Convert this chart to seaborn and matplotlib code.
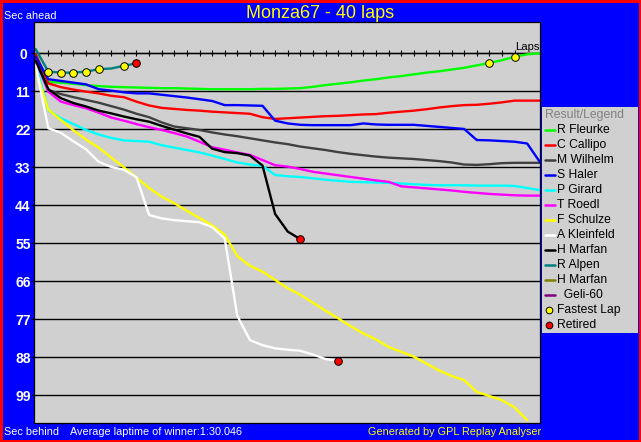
import numpy as np
import pandas as pd
import matplotlib
matplotlib.use("Agg")
import matplotlib.pyplot as plt
import seaborn as sns
from matplotlib.patches import Rectangle
from matplotlib.lines import Line2D

# ---------------- data ----------------
driver_labels = ["R Fleurke", "C Callipo", "M Wilhelm", "S Haler", "P Girard", "T Roedl",
                 "F Schulze", "A Kleinfeld", "H Marfan", "R Alpen", "H Marfan", "  Geli-60"]
driver_colors = ["#00FF00", "#FF0000", "#404040", "#0000FF", "#00FFFF", "#FF00FF",
                 "#FFFF00", "#FFFFFF", "#000000", "#008080", "#808000", "#800080"]

gap_fleurke = [0.3, 8.3, 8.5, 8.8, 9.2, 9.5, 9.7, 9.8, 9.9, 10.0, 10.1, 10.1, 10.2, 10.3, 10.4,
               10.4, 10.4, 10.4, 10.3, 10.3, 10.2, 10.1, 9.7, 9.2, 8.8, 8.4, 7.9, 7.5, 7.0, 6.6,
               6.1, 5.6, 5.2, 4.7, 4.2, 3.5, 2.8, 2.0, 1.0, 0.3, 0.0]
gap_callipo = [0.2, 8.7, 9.8, 10.5, 11.1, 11.6, 12.3, 12.7, 14.0, 15.1, 15.8, 16.1, 16.4, 16.6,
               16.9, 17.1, 17.3, 17.5, 18.5, 19.0, 18.8, 18.6, 18.4, 18.2, 18.1, 17.9, 17.7,
               17.6, 17.2, 16.9, 16.6, 16.2, 15.7, 15.3, 15.0, 14.9, 14.6, 14.2, 13.7, 13.7, 13.7]
gap_wilhelm = [1.5, 10.6, 11.8, 12.7, 13.5, 14.3, 15.3, 16.3, 17.5, 18.5, 20.0, 21.2, 21.7, 22.2,
               22.9, 23.5, 24.0, 24.6, 25.2, 25.8, 26.3, 27.0, 27.5, 28.0, 28.6, 29.1, 29.5,
               29.9, 30.2, 30.4, 30.6, 30.9, 31.2, 31.6, 32.2, 32.3, 32.1, 31.8, 31.7, 31.7, 31.7]
gap_haler = [1.0, 7.5, 8.0, 8.5, 9.0, 10.4, 10.8, 11.3, 11.6, 11.6, 12.0, 12.4, 12.8, 13.3, 13.8,
             15.0, 15.0, 15.1, 15.2, 19.5, 20.3, 20.7, 20.8, 20.8, 20.8, 20.8, 20.3, 20.6, 20.7,
             20.7, 20.7, 21.0, 21.3, 21.6, 21.9, 25.1, 25.2, 25.4, 25.6, 26.1, 31.4]
gap_girard = [3.0, 16.5, 18.8, 20.5, 22.2, 23.5, 24.5, 25.2, 25.4, 25.6, 26.6, 27.3, 28.0, 28.7,
              29.6, 30.6, 31.6, 32.2, 32.6, 35.2, 35.6, 35.8, 36.2, 36.6, 36.9, 37.2, 37.3, 37.4,
              37.5, 37.7, 37.9, 38.1, 38.2, 38.2, 38.2, 38.3, 38.3, 38.3, 38.4, 39.0, 39.6]
gap_roedl = [2.0, 11.1, 14.0, 15.0, 15.9, 17.2, 18.6, 19.5, 20.5, 21.4, 22.2, 23.1, 24.1, 25.6,
             27.2, 27.9, 28.7, 29.4, 30.9, 32.4, 32.8, 33.5, 34.3, 34.8, 35.3, 35.8, 36.3, 36.8,
             37.2, 38.5, 38.8, 39.1, 39.4, 39.7, 40.1, 40.4, 40.7, 40.9, 41.1, 41.2, 41.2]
gap_schulze = [4.8, 16.3, 19.3, 22.3, 25.0, 27.3, 30.2, 33.0, 36.0, 39.0, 41.5, 43.4, 45.6, 47.7,
               49.8, 52.5, 58.7, 61.5, 63.2, 65.6, 68.0, 69.9, 72.2, 74.5, 76.7, 79.0, 81.1, 82.8,
               85.0, 86.4, 87.8, 89.8, 91.8, 93.4, 94.6, 98.0, 99.2, 100.4, 102.5, 106.2]
gap_kleinfeld = [3.5, 21.7, 23.0, 25.5, 27.8, 31.4, 32.9, 33.7, 35.9, 46.8, 47.8, 48.3, 48.6,
                 48.9, 50.3, 53.6, 76.0, 83.0, 84.5, 85.4, 85.8, 86.1, 87.2, 88.5, 89.0]
gap_marfan = [2.1, 10.4, 13.0, 14.4, 15.4, 16.6, 17.4, 18.3, 19.1, 19.8, 21.0, 22.1, 23.2, 24.2,
              27.6, 28.6, 28.9, 29.6, 32.5, 46.5, 51.6, 53.8]
gap_alpen = [-1.2, 5.3, 5.6, 5.6, 5.3, 4.6, 4.4, 3.6, 2.9]
gap_marfan2 = []
gap_geli = []

all_gaps = [gap_fleurke, gap_callipo, gap_wilhelm, gap_haler, gap_girard, gap_roedl,
            gap_schulze, gap_kleinfeld, gap_marfan, gap_alpen, gap_marfan2, gap_geli]

fastest_driver = [9, 9, 9, 9, 9, 9, 0, 0]
fastest_lap = [1, 2, 3, 4, 5, 7, 36, 38]
retired_driver = [9, 8, 7]
retired_lap = [8, 21, 24]

y_ticks = [0, 11, 22, 33, 44, 55, 66, 77, 88, 99]
lap_ticks = list(range(1, 39))

title_text = "Monza67 - 40 laps"
avg_text = "Average laptime of winner:1:30.046"

# ---------------- frames ----------------
rows = []
for i, g in enumerate(all_gaps):
    for lap, v in enumerate(g):
        rows.append({"entry": i, "lap": lap, "gap": v})
df = pd.DataFrame(rows)

fl = pd.DataFrame({"lap": fastest_lap,
                   "gap": [all_gaps[d][l] for d, l in zip(fastest_driver, fastest_lap)]})
rt = pd.DataFrame({"lap": retired_lap,
                   "gap": [all_gaps[d][l] for d, l in zip(retired_driver, retired_lap)]})

# ---------------- style ----------------
sns.set_style("white")
plt.rcParams["font.family"] = ["Liberation Sans", "DejaVu Sans"]

W, H = 641, 442
fig = plt.figure(figsize=(W / 100, H / 100), dpi=100)
fig.patch.set_facecolor("#0000FF")

def fx(x):
    return x / W

def fy(y):
    return 1 - y / H

PL, PR, PT, PB = 34.3, 540.0, 22.0, 423.3
ax = fig.add_axes([fx(PL), fy(PB), (PR - PL) / W, (PB - PT) / H])
ax.set_facecolor("#D0D0D0")

present = [i for i, g in enumerate(all_gaps) if len(g) > 0]
palette = {i: driver_colors[i] for i in present}
sns.lineplot(data=df, x="lap", y="gap", hue="entry", hue_order=present, palette=palette,
             legend=False, linewidth=1.7, estimator=None, sort=False, ax=ax, zorder=3)
sns.scatterplot(data=fl, x="lap", y="gap", color="#FFFF00", edgecolor="black", linewidth=0.7,
                s=30, marker="o", ax=ax, zorder=5, legend=False)
sns.scatterplot(data=rt, x="lap", y="gap", color="#FF0000", edgecolor="black", linewidth=0.7,
                s=30, marker="o", ax=ax, zorder=5, legend=False)

ax.set_xlim(-0.11, 40.02)
ax.set_ylim(107.1, -9.06)
ax.set_xlabel("")
ax.set_ylabel("")

# zero line with lap ticks
for s in ["top", "left", "right"]:
    ax.spines[s].set_visible(False)
ax.spines["bottom"].set_position(("data", 0))
ax.spines["bottom"].set_color("black")
ax.spines["bottom"].set_linewidth(0.9)
ax.spines["bottom"].set_zorder(2)
ax.set_xticks(lap_ticks)
ax.tick_params(axis="x", direction="inout", length=4.0, width=0.8, color="black",
               labelbottom=False, bottom=True)

ax.set_yticks(y_ticks)
ax.set_yticklabels([str(v) for v in y_ticks])
ax.tick_params(axis="y", direction="out", length=2.2, width=0.8, color="black", left=True,
               pad=6.0, labelcolor="white", labelsize=10)
for lab in ax.get_yticklabels():
    lab.set_fontweight("bold")
    lab.set_ha("center")
ax.yaxis.grid(True, color="black", linewidth=1.0, zorder=1)
ax.xaxis.grid(False)
ax.set_axisbelow(True)

frame = Rectangle((0, 0), 1, 1, transform=ax.transAxes, fill=False, edgecolor="black",
                  linewidth=0.9, clip_on=False, zorder=6)
ax.add_patch(frame)

# ---------------- texts ----------------
fig.text(fx(4), fy(16), "Sec ahead", color="white", fontsize=7.8, ha="left", va="center")
fig.text(fx(320), fy(13), title_text, color="#FFFF00", fontsize=13, ha="center", va="center")
fig.text(fx(4), fy(432), "Sec behind", color="white", fontsize=7.8, ha="left", va="center")
fig.text(fx(69.5), fy(432), avg_text, color="white", fontsize=7.8, ha="left", va="center")
fig.text(fx(541), fy(432), "Generated by GPL Replay Analyser", color="#FFFF00", fontsize=7.8,
         ha="right", va="center")
fig.text(fx(540), fy(49.5), "Laps", color="black", fontsize=8.2, ha="right", va="baseline")

# ---------------- legend ----------------
LX0, LY0, LX1, LY1 = 542.3, 106.7, 638.3, 333.3
lax = fig.add_axes([fx(LX0), fy(LY1), (LX1 - LX0) / W, (LY1 - LY0) / H])
lax.set_facecolor("#D0D0D0")
lax.set_xlim(0, LX1 - LX0)
lax.set_ylim(LY1 - LY0, 0)
lax.set_xticks([])
lax.set_yticks([])
for s in lax.spines.values():
    s.set_visible(False)
lax.text(2.7, 8.5, "Result/Legend", color="#808080", fontsize=8.8, ha="left", va="center")
legend_labels = driver_labels + ["Fastest Lap", "Retired"]
for k, lab in enumerate(legend_labels):
    yy = 23.3 + 15 * k
    if k < len(driver_labels):
        lax.add_line(Line2D([2.7, 12.7], [yy, yy], color=driver_colors[k], linewidth=1.8))
    elif lab == "Fastest Lap":
        lax.plot([7], [yy], marker="o", markersize=4.8, markerfacecolor="#FFFF00",
                 markeredgecolor="black", markeredgewidth=0.7, linestyle="none")
    else:
        lax.plot([7], [yy], marker="o", markersize=4.8, markerfacecolor="#FF0000",
                 markeredgecolor="black", markeredgewidth=0.7, linestyle="none")
    lax.text(14.4, yy, lab, color="black", fontsize=8.7, ha="left", va="center")

# red outer border
fig.patches.append(Rectangle((0, 0), 1, 1, transform=fig.transFigure, fill=False,
                             edgecolor="#FF0000", linewidth=3.6, zorder=10))

fig.savefig("out.png", dpi=100, facecolor=fig.get_facecolor())
